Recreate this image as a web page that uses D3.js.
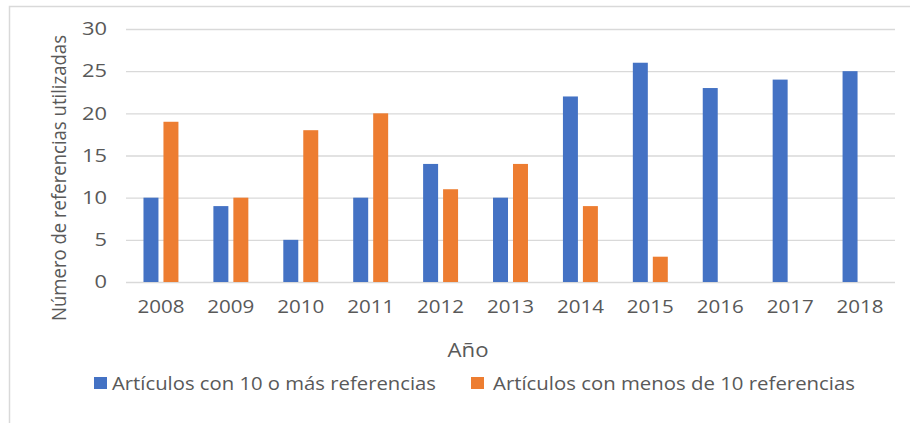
<!DOCTYPE html>
<html>
<head>
<meta charset="utf-8">
<script src="https://cdn.jsdelivr.net/npm/d3@7"></script>
<style>
  body { margin: 0; background: #fff; }
  text { font-family: "Open Sans", "Noto Sans", sans-serif; fill: #595959; }
</style>
</head>
<body>
<script>
 ///////////////////////////////////////////////////////
 // data

 var years = ["2008", "2009", "2010", "2011", "2012", "2013", "2014", "2015", "2016", "2017", "2018"];
 var seriesNames = ["Artículos con 10 o más referencias", "Artículos con menos de 10 referencias"];
 var masDe10 = [10, 9, 5, 10, 14, 10, 22, 26, 23, 24, 25];
 var menosDe10 = [19, 10, 18, 20, 11, 14, 9, 3, 0, 0, 0];
 var yTicks = [0, 5, 10, 15, 20, 25, 30];

 var rows = years.map(function(y, i) {
   return { year: y, values: [masDe10[i], menosDe10[i]] };
 });

 ///////////////////////////////////////////////////////
 // margins

 var w = 910;
 var h = 423;
 var svg = d3.select("body").append("svg")
   .attr("width", w)
   .attr("height", h),
   margin = { top: 29, bottom: 141, left: 126, right: 15 },
   width = w - margin.left - margin.right,
   height = h - margin.top - margin.bottom;

 var colors = ["#4472C4", "#ED7D31"];

 // outer frame (only top and left edges show)
 svg.append("path")
   .attr("d", "M9.5,423V6.5H910")
   .attr("fill", "none")
   .attr("stroke", "#d9d9d9")
   .attr("stroke-width", 1.5);

 ///////////////////////////////////////////////////////
 // scales

 var x0 = d3.scaleBand()
   .domain(years)
   .range([0, width])
   .paddingInner(0.5)
   .paddingOuter(0.25);
 var x1 = d3.scaleBand()
   .domain([0, 1])
   .range([0, x0.bandwidth()])
   .paddingInner(0.25);
 var y = d3.scaleLinear()
   .domain([0, 30])
   .range([height, 0]);

 var chart = svg.append("g")
   .attr("transform", "translate(" + margin.left + "," + margin.top + ")");

 // gridlines
 chart.append("g")
   .attr("class", "grid")
   .call(d3.axisLeft(y).tickValues(yTicks).tickFormat("").tickSize(-width))
   .call(function(g) {
     g.select(".domain").remove();
     g.selectAll("line").attr("stroke", "#d9d9d9").attr("stroke-width", 1.3);
   });

 // axes
 chart.append("g")
   .call(d3.axisLeft(y).tickValues(yTicks).tickSize(0).tickPadding(19))
   .call(function(g) {
     g.select(".domain").remove();
     g.selectAll("text")
       .style("font-size", "18px")
       .attr("textLength", function(d) { return String(d).length * 12.5; })
       .attr("lengthAdjust", "spacingAndGlyphs");
   });

 chart.append("g")
   .attr("transform", "translate(0," + height + ")")
   .call(d3.axisBottom(x0).tickSize(0).tickPadding(18))
   .call(function(g) {
     g.select(".domain").remove();
     g.selectAll("text")
       .style("font-size", "18px")
       .attr("textLength", 47)
       .attr("lengthAdjust", "spacingAndGlyphs");
   });

 ///////////////////////////////////////////////////////
 // bars

 var groups = chart.selectAll(".year")
   .data(rows)
   .enter().append("g")
   .attr("class", "year")
   .attr("transform", function(d) { return "translate(" + x0(d.year) + ",0)"; });

 groups.selectAll("rect")
   .data(function(d) { return d.values.map(function(v, i) { return { i: i, v: v }; }); })
   .enter().append("rect")
   .filter(function(d) { return d.v > 0; })
   .attr("x", function(d) { return x1(d.i); })
   .attr("width", x1.bandwidth())
   .attr("y", function(d) { return y(d.v); })
   .attr("height", function(d) { return height - y(d.v); })
   .attr("fill", function(d) { return colors[d.i]; });

 ///////////////////////////////////////////////////////
 // titles

 svg.append("text")
   .attr("transform", "translate(66,178) rotate(-90)")
   .attr("text-anchor", "middle")
   .style("font-size", "20px")
   .attr("textLength", 286)
   .attr("lengthAdjust", "spacingAndGlyphs")
   .text("Número de referencias utilizadas");

 svg.append("text")
   .attr("x", 468)
   .attr("y", 357)
   .attr("text-anchor", "middle")
   .style("font-size", "20px")
   .attr("textLength", 41)
   .attr("lengthAdjust", "spacingAndGlyphs")
   .text("Año");

 ///////////////////////////////////////////////////////
 // legend

 var legendPos = [{ sq: 94, tx: 112, len: 324 }, { sq: 471, tx: 493, len: 362 }];
 var legend = svg.selectAll(".legend")
   .data(seriesNames)
   .enter().append("g")
   .attr("class", "legend");
 legend.append("rect")
   .attr("x", function(d, i) { return legendPos[i].sq; })
   .attr("y", 377)
   .attr("width", 13)
   .attr("height", 12)
   .attr("fill", function(d, i) { return colors[i]; });
 legend.append("text")
   .attr("x", function(d, i) { return legendPos[i].tx; })
   .attr("y", 390)
   .style("font-size", "18px")
   .attr("textLength", function(d, i) { return legendPos[i].len; })
   .attr("lengthAdjust", "spacingAndGlyphs")
   .text(function(d) { return d; });
</script>
</body>
</html>
